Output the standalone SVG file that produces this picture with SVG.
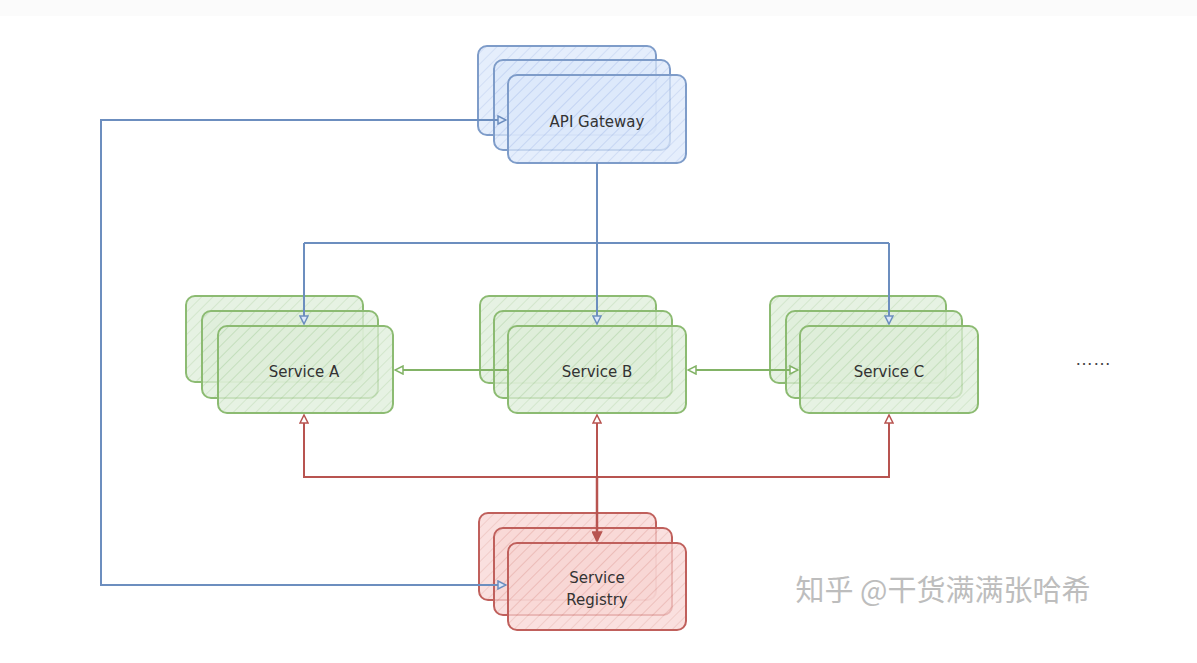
<svg xmlns="http://www.w3.org/2000/svg" width="1197" height="663" viewBox="0 0 1197 663">
<defs>
<pattern id="hb" width="8" height="8" patternUnits="userSpaceOnUse" patternTransform="rotate(45)"><rect width="8" height="8" fill="#dce8fb"/><line x1="0" y1="0" x2="0" y2="8" stroke="#b9cdef" stroke-width="1.5"/></pattern>
<pattern id="hg" width="8" height="8" patternUnits="userSpaceOnUse" patternTransform="rotate(45)"><rect width="8" height="8" fill="#deeed9"/><line x1="0" y1="0" x2="0" y2="8" stroke="#bcd9b2" stroke-width="1.5"/></pattern>
<pattern id="hr" width="8" height="8" patternUnits="userSpaceOnUse" patternTransform="rotate(45)"><rect width="8" height="8" fill="#f8d6d4"/><line x1="0" y1="0" x2="0" y2="8" stroke="#e8b2ae" stroke-width="1.5"/></pattern>
<marker id="ab" viewBox="0 0 10 10" refX="9" refY="5" markerWidth="10" markerHeight="10" orient="auto-start-reverse" markerUnits="userSpaceOnUse"><path d="M1,1 L9,5 L1,9 Z" fill="#dce8fb" stroke="#6c8ebf" stroke-width="1.5"/></marker>
<marker id="ag" viewBox="0 0 10 10" refX="9" refY="5" markerWidth="10" markerHeight="10" orient="auto-start-reverse" markerUnits="userSpaceOnUse"><path d="M1,1 L9,5 L1,9 Z" fill="#ffffff" stroke="#82b366" stroke-width="1.5"/></marker>
<marker id="ar" viewBox="0 0 10 10" refX="9" refY="5" markerWidth="10" markerHeight="10" orient="auto-start-reverse" markerUnits="userSpaceOnUse"><path d="M1,1 L9,5 L1,9 Z" fill="#ffffff" stroke="#b85450" stroke-width="1.5"/></marker>
<marker id="arf" viewBox="0 0 10 10" refX="9" refY="5" markerWidth="11" markerHeight="11" orient="auto" markerUnits="userSpaceOnUse"><path d="M1,1 L9,5 L1,9 Z" fill="#b85450" stroke="#b85450" stroke-width="1.5"/></marker>
</defs>
<style>
.b{fill:url(#hb);stroke:#7e9cc9;stroke-width:2;fill-opacity:0.75}
.g{fill:url(#hg);stroke:#8cbb72;stroke-width:2;fill-opacity:0.75}
.r{fill:url(#hr);stroke:#c0605c;stroke-width:2;fill-opacity:0.75}
.t{font-family:"DejaVu Sans","Liberation Sans",sans-serif;font-size:15px;fill:#333;text-anchor:middle}
.cb{fill:none;stroke:#6c8ebf;stroke-width:2}
.cg{fill:none;stroke:#82b366;stroke-width:2}
.cr{fill:none;stroke:#b85450;stroke-width:2}
</style>
<rect width="1197" height="663" fill="#ffffff"/>
<rect width="1197" height="16" fill="#fbfbfb"/>
<g id="api-gateway">
<rect class="b" x="478" y="46" width="178" height="89" rx="9"/>
<rect class="b" x="494" y="60" width="176" height="90" rx="9"/>
<rect class="b" x="508" y="75" width="178" height="88" rx="9"/>
<text class="t" x="597" y="127">API Gateway</text>
</g>
<g id="service-a">
<rect class="g" x="186" y="296" width="177" height="86" rx="9"/>
<rect class="g" x="202" y="311" width="176" height="87" rx="9"/>
<rect class="g" x="218" y="326" width="175" height="87" rx="9"/>
<text class="t" x="304" y="377">Service A</text>
</g>
<g id="service-b">
<rect class="g" x="480" y="296" width="176" height="87" rx="9"/>
<rect class="g" x="494" y="311" width="178" height="87" rx="9"/>
<rect class="g" x="508" y="326" width="178" height="87" rx="9"/>
<text class="t" x="597" y="377">Service B</text>
</g>
<g id="service-c">
<rect class="g" x="770" y="296" width="176" height="87" rx="9"/>
<rect class="g" x="786" y="311" width="176" height="87" rx="9"/>
<rect class="g" x="800" y="326" width="178" height="87" rx="9"/>
<text class="t" x="889" y="377">Service C</text>
</g>
<g id="service-registry">
<rect class="r" x="479" y="513" width="177" height="87" rx="9"/>
<rect class="r" x="494" y="528" width="178" height="87" rx="9"/>
<rect class="r" x="508" y="543" width="178" height="87" rx="9"/>
<text class="t" x="597" y="583">Service</text>
<text class="t" x="597" y="605">Registry</text>
</g>
<g id="connectors">
<path class="cb" d="M597,163 V324" marker-end="url(#ab)"/>
<path class="cb" d="M304,243 H889"/>
<path class="cb" d="M304,243 V324" marker-end="url(#ab)"/>
<path class="cb" d="M889,243 V324" marker-end="url(#ab)"/>
<path class="cb" d="M506,585 H101 V120 H506" marker-end="url(#ab)" marker-start="url(#ab)"/>
<path class="cg" d="M508,370 H395" marker-end="url(#ag)"/>
<path class="cg" d="M688,370 H798" marker-end="url(#ag)" marker-start="url(#ag)"/>
<path class="cr" d="M597,477 V415" marker-end="url(#ar)"/>
<path class="cr" d="M597,477 V541" style="stroke-width:2.5" marker-end="url(#arf)"/>
<path class="cr" d="M304,415 V477 H889 V415" marker-end="url(#ar)" marker-start="url(#ar)"/>
</g>
<g id="more">
<text x="1093" y="365" style="font-family:'Liberation Sans',sans-serif;font-size:18px;fill:#444;text-anchor:middle">……</text>
</g>
<text x="943" y="601" style="font-family:'Noto Sans CJK SC',sans-serif;font-size:29px;fill:#bdbdbd;text-anchor:middle">知乎 @干货满满张哈希</text>
</svg>
